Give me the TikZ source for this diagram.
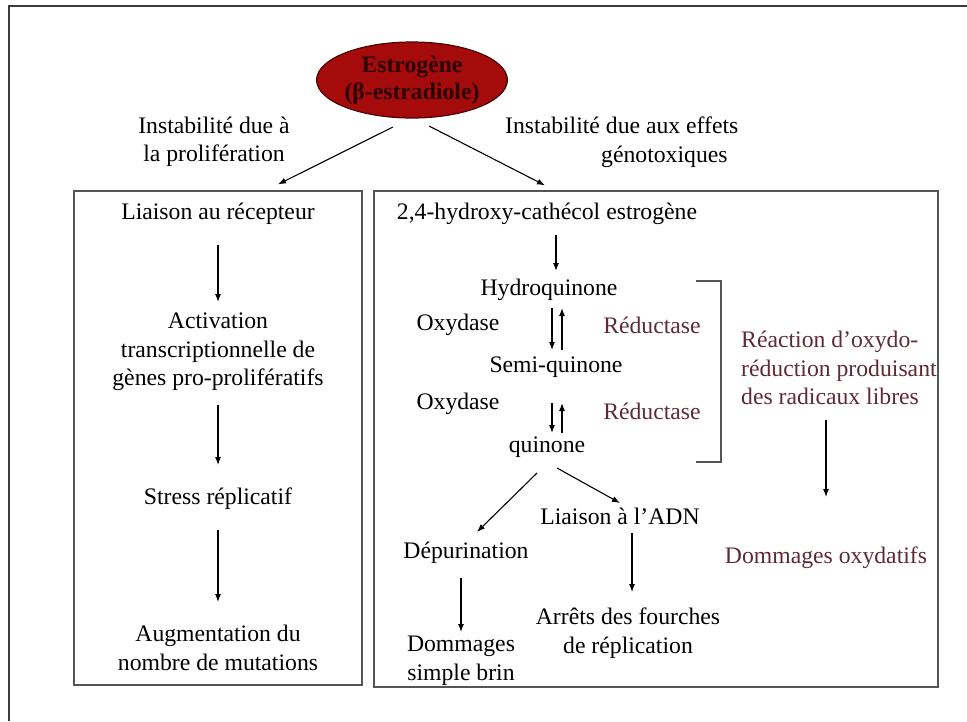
\documentclass[tikz,border=0pt]{standalone}
\usepackage{fontspec}
\setmainfont{Liberation Serif}
\usetikzlibrary{arrows.meta,shapes.geometric,calc}
\definecolor{estfill}{HTML}{A50B0B}
\definecolor{estedge}{HTML}{4A0505}
\definecolor{esttext}{HTML}{2A0404}
\definecolor{redox}{HTML}{5E2A36}
\definecolor{frameline}{HTML}{3A3A3A}
\definecolor{boxline}{HTML}{555555}
\begin{document}
\begin{tikzpicture}[x=1pt,y=-1pt,
  txt/.style={inner sep=0pt, align=center, font=\fontsize{23.7}{28.5}\selectfont},
  arr/.style={-{Latex[length=8pt,width=6pt]}, line width=1.1pt},
  panel/.style={draw=boxline, line width=1.3pt, inner sep=0pt},
  redtxt/.style={txt, text=redox}]
\useasboundingbox (0,0) rectangle (967,721);

% page frame
\draw[frameline, line width=1.8pt] (967,6) -- (9,6) -- (9,721);

% source node
\node[ellipse, fill=estfill, draw=estedge, line width=1.2pt, minimum width=185pt,
      minimum height=76pt, inner sep=0pt, text=esttext,
      font=\bfseries\fontsize{23.7}{27}\selectfont, align=center] (est) at (412,80)
      {Estrogène\\(β-estradiole)};

% the two pathway panels
\node[panel, minimum width=288pt, minimum height=494pt] (lbox) at (218,438) {};
\node[panel, minimum width=564pt, minimum height=496pt] (rbox) at (656,439) {};

% branch labels
\node[txt] (lab1) at (214,142) {Instabilité due à\\la prolifération};
\node[txt, align=left, anchor=west] (lab2) at (505,142) {Instabilité due aux effets\\\hspace*{96pt}génotoxiques};

\draw[arr] ($(est)+(-19,47)$) -- ($(lbox.north)+(60,-6)$);
\draw[arr] ($(est)+(17,46)$) -- ($(rbox.north)+(-111,-5)$);

% proliferation pathway
\node[txt] (l1) at (218,214) {Liaison au récepteur};
\node[txt] (l2) at (218,352) {Activation\\transcriptionnelle de\\gènes pro-prolifératifs};
\node[txt] (l3) at (218,499) {Stress réplicatif};
\node[txt] (l4) at (218,648) {Augmentation du\\nombre de mutations};

\draw[arr] ($(l1)+(0,31)$) -- ($(l2)+(0,-50)$);
\draw[arr] ($(l2)+(0,53)$) -- ($(l3)+(0,-34)$);
\draw[arr] ($(l3)+(0,31)$) -- ($(l4)+(0,-46)$);

% genotoxic pathway
\node[txt] (r1) at (547,214) {2,4-hydroxy-cathécol estrogène};
\node[txt] (hq) at (549,290) {Hydroquinone};
\node[txt] (sq) at (556,367) {Semi-quinone};
\node[txt] (q) at (547,447) {quinone};
\node[txt] (ox1) at (458,325) {Oxydase};
\node[redtxt] (re1) at (652,325) {Réductase};
\node[txt] (ox2) at (458,404) {Oxydase};
\node[redtxt] (re2) at (652,411) {Réductase};

\draw[arr] ($(r1)+(9,21)$) -- ($(hq)+(7,-19)$);
\draw[arr] ($(hq)+(3,18)$) -- ($(sq)+(-4,-17)$);
\draw[arr] ($(sq)+(6,-17)$) -- ($(hq)+(13,18)$);
\draw[arr] ($(sq)+(-4,36)$) -- ($(q)+(5,-14)$);
\draw[arr] ($(q)+(15,-14)$) -- ($(sq)+(6,36)$);

% redox cycle bracket
\draw[boxline, line width=1.1pt] (696,281) -| (721,462) -- (696,462);
\node[redtxt, align=left, anchor=west] (rx) at (741,368)
  {Réaction d’oxydo-\\réduction produisant\\des radicaux libres};
\node[redtxt] (dox) at (826,558) {Dommages oxydatifs};
\draw[arr] ($(dox)+(0,-138)$) -- ($(dox)+(0,-61)$);

% DNA damage branches
\node[txt] (lad) at (620,516) {Liaison à l’ADN};
\node[txt] (dep) at (466,553) {Dépurination};
\node[txt] (dsb) at (461,661) {Dommages\\simple brin};
\node[txt] (afr) at (628,633) {Arrêts des fourches\\de réplication};

\draw[arr] ($(q)+(-10,26)$) -- ($(dep)+(11,-21)$);
\draw[arr] ($(q)+(10,21)$) -- ($(lad)+(0,-13)$);
\draw[arr] ($(dep)+(-5,25)$) -- ($(dsb)+(0,-29)$);
\draw[arr] ($(lad)+(12,17)$) -- ($(afr)+(4,-41)$);
\end{tikzpicture}
\end{document}
